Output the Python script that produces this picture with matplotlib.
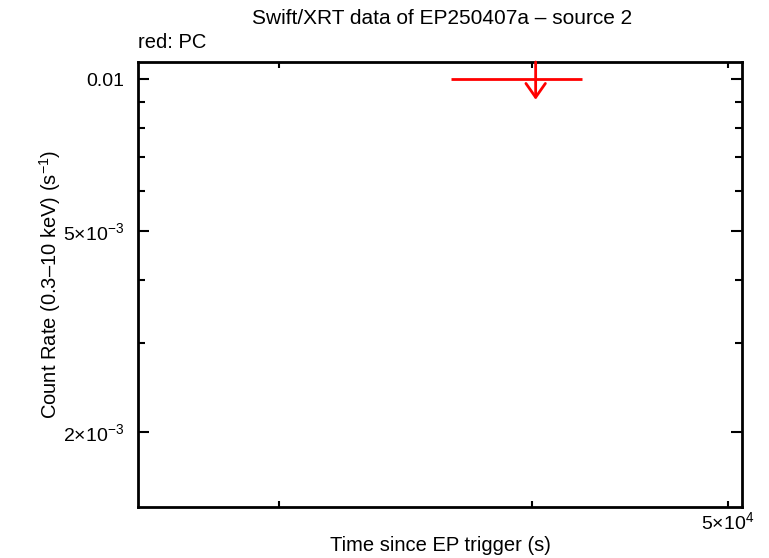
import numpy as np
import matplotlib
matplotlib.use("Agg")
from matplotlib import pyplot as plt
from matplotlib.ticker import FixedLocator, NullFormatter

plt.rcParams["font.family"] = ["Liberation Sans", "DejaVu Sans"]
plt.rcParams["mathtext.fontset"] = "custom"
plt.rcParams["mathtext.rm"] = "Liberation Sans"
plt.rcParams["mathtext.it"] = "Liberation Sans"

# PC mode upper limit
pc_time = [40180.0]
pc_t_lo = [36480.0]
pc_t_hi = [42330.0]
pc_rate = [0.01]
pc_arrow_to = [0.0091]

y_ticks = [2e-3, 5e-3, 0.01]
y_labels = [r"2$\times$10$^{-3}$", r"5$\times$10$^{-3}$", "0.01"]
x_ticks = [5e4]
x_labels = [r"5$\times$10$^{4}$"]

fig = plt.figure(figsize=(7.69, 5.58), dpi=100)
ax = fig.add_axes([138/769, 1-507/558, (742-138)/769, (507-62)/558])
ax.set_xscale("log")
ax.set_yscale("log")
ax.set_xlim(25570, 50800)
ax.set_ylim(0.00142, 0.01081)

t = np.array(pc_time)
xerr = [t - np.array(pc_t_lo), np.array(pc_t_hi) - t]
ax.errorbar(pc_time, pc_rate, xerr=xerr, fmt="none", ecolor="red",
            elinewidth=2, capsize=0)
for xi, yt in zip(pc_time, pc_arrow_to):
    ax.annotate("", xy=(xi, yt), xytext=(xi, 0.01081),
                arrowprops=dict(arrowstyle="->,head_length=0.5,head_width=0.35",
                                mutation_scale=20, color="red", lw=2,
                                shrinkA=0, shrinkB=0))

# ticks
ax.yaxis.set_major_locator(FixedLocator(y_ticks))
ax.set_yticklabels(y_labels)
ax.yaxis.set_minor_locator(FixedLocator([3e-3, 4e-3, 6e-3, 7e-3, 8e-3, 9e-3]))
ax.yaxis.set_minor_formatter(NullFormatter())
ax.xaxis.set_major_locator(FixedLocator(x_ticks))
ax.set_xticklabels(x_labels)
ax.xaxis.set_minor_locator(FixedLocator([3e4, 4e4]))
ax.xaxis.set_minor_formatter(NullFormatter())

ax.tick_params(which="both", direction="in", top=True, right=True, width=1.5,
               labelsize=14)
ax.tick_params(axis="y", which="major", length=8, pad=10)
ax.tick_params(axis="y", which="minor", length=5)
ax.tick_params(axis="x", which="both", length=4, pad=3)
for s in ax.spines.values():
    s.set_linewidth(2)

ax.set_xlabel("Time since EP trigger (s)", fontsize=14.5, labelpad=2)
ax.set_ylabel("Count Rate (0.3\u201310 keV) (s$^{-1}$)", fontsize=14.5, labelpad=0)
fig.text(442/769, 1-19/558, "Swift/XRT data of EP250407a \u2013 source 2",
         ha="center", va="center", fontsize=15)
fig.text(138/769, 1-43/558, "red: PC", ha="left", va="center", fontsize=14.5)

fig.savefig("out.png", dpi=100)
